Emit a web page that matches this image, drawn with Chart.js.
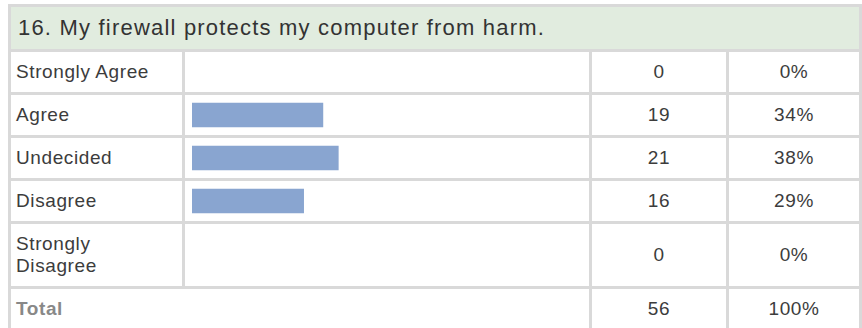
<!DOCTYPE html>
<html lang="en">
<head>
<meta charset="UTF-8">
<title>Survey question 16</title>
<script src="https://cdn.jsdelivr.net/npm/chart.js"></script>
<style>
  body { margin: 0; background: #fff; font-family: "Liberation Sans", Arial, sans-serif; color: #3c3c3c; }
  table { position: absolute; left: 8px; top: 4px; border-collapse: separate; border-spacing: 3px; background: #d9d9d9; }
  td { background: #fff; padding: 0; font-size: 19px; letter-spacing: 0.6px; }
  td.title { background: #e1ecdf; height: 42px; font-size: 22px; letter-spacing: 1.2px; padding-left: 7px; color: #333; }
  td.label { width: 166px; padding-left: 5px; height: 40px; line-height: 22px; }
  td.bar { width: 404px; position: relative; }
  td.num { width: 134px; text-align: center; }
  td.pct { width: 130px; text-align: center; }
  td.total { font-weight: bold; color: #888; }
  .wrap { position: absolute; left: 7px; top: 0; }
</style>
</head>
<body>
<table id="tabela"></table>

<script>
  const question = '16. My firewall protects my computer from harm.';
  const categories = ['Strongly Agree', 'Agree', 'Undecided', 'Disagree', 'Strongly Disagree'];
  const counts = [0, 19, 21, 16, 0];
  const percents = [0, 34, 38, 29, 0];
  const totalCount = 56;
  const totalPercent = 100;

  const rowHeights = [40, 40, 40, 40, 62];

  const table = document.getElementById('tabela');
  table.innerHTML = '<tr><td class="title" colspan="4">' + question + '</td></tr>';

  categories.forEach(function (cat, i) {
    const tr = document.createElement('tr');
    const label = cat === 'Strongly Disagree' ? 'Strongly<br>Disagree' : cat;
    tr.innerHTML =
      '<td class="label" style="height:' + rowHeights[i] + 'px">' + label + '</td>' +
      '<td class="bar"><div class="wrap"><canvas id="bar' + i + '" width="385" height="' + rowHeights[i] + '"></canvas></div></td>' +
      '<td class="num">' + counts[i] + '</td>' +
      '<td class="pct">' + percents[i] + '%</td>';
    table.appendChild(tr);
  });

  const totalRow = document.createElement('tr');
  totalRow.innerHTML =
    '<td class="label total" colspan="2" style="height:40px">Total</td>' +
    '<td class="num">' + totalCount + '</td>' +
    '<td class="pct">' + totalPercent + '%</td>';
  table.appendChild(totalRow);

  categories.forEach(function (cat, i) {
    new Chart(document.getElementById('bar' + i), {
      type: 'bar',
      data: {
        labels: [cat],
        datasets: [{
          // a zero bar leaves a hairline, so skip it
          data: [percents[i] > 0 ? percents[i] : null],
          backgroundColor: '#89a5d0',
          borderWidth: 0,
          barThickness: 24
        }]
      },
      options: {
        indexAxis: 'y',
        responsive: false,
        animation: false,
        layout: { padding: 0 },
        plugins: { legend: { display: false }, tooltip: { enabled: false } },
        scales: {
          x: { min: 0, max: 100, display: false },
          y: { display: false }
        }
      }
    });
  });
</script>
</body>
</html>
